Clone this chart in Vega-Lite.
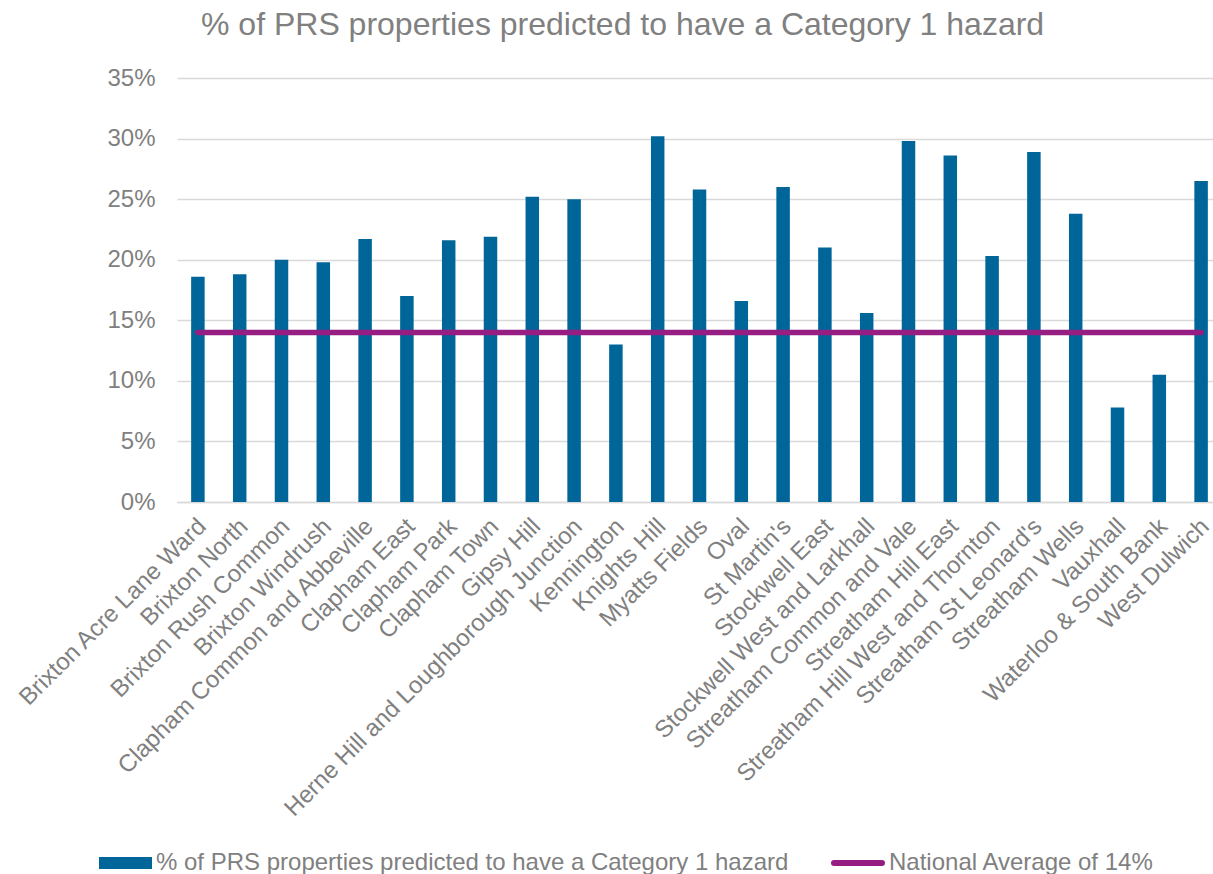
{
  "$schema": "https://vega.github.io/schema/vega-lite/v6.json",
  "autosize": "none",
  "width": 1036,
  "height": 424,
  "padding": {"left": 177, "top": 78, "right": 0, "bottom": 372},
  "background": "white",
  "config": {
    "font": "Liberation Sans",
    "view": {"stroke": null},
    "axis": {"labelFont": "Liberation Sans", "labelColor": "#808080", "labelFontSize": 24}
  },
  "title": {
    "text": "% of PRS properties predicted to have a Category 1 hazard",
    "anchor": "start",
    "frame": "group",
    "dx": 24,
    "baseline": "alphabetic",
    "offset": -1,
    "fontSize": 32,
    "fontWeight": "normal",
    "font": "Liberation Sans",
    "color": "#808080"
  },
  "data": {
    "values": [
      {"ward": "Brixton Acre Lane Ward", "pct": 0.186, "national": 0.14},
      {"ward": "Brixton North", "pct": 0.188, "national": 0.14},
      {"ward": "Brixton Rush Common", "pct": 0.200, "national": 0.14},
      {"ward": "Brixton Windrush", "pct": 0.198, "national": 0.14},
      {"ward": "Clapham Common and Abbeville", "pct": 0.217, "national": 0.14},
      {"ward": "Clapham East", "pct": 0.170, "national": 0.14},
      {"ward": "Clapham Park", "pct": 0.216, "national": 0.14},
      {"ward": "Clapham Town", "pct": 0.219, "national": 0.14},
      {"ward": "Gipsy Hill", "pct": 0.252, "national": 0.14},
      {"ward": "Herne Hill and Loughborough Junction", "pct": 0.250, "national": 0.14},
      {"ward": "Kennington", "pct": 0.130, "national": 0.14},
      {"ward": "Knights Hill", "pct": 0.302, "national": 0.14},
      {"ward": "Myatts Fields", "pct": 0.258, "national": 0.14},
      {"ward": "Oval", "pct": 0.166, "national": 0.14},
      {"ward": "St Martin's", "pct": 0.260, "national": 0.14},
      {"ward": "Stockwell East", "pct": 0.210, "national": 0.14},
      {"ward": "Stockwell West and Larkhall", "pct": 0.156, "national": 0.14},
      {"ward": "Streatham Common and Vale", "pct": 0.298, "national": 0.14},
      {"ward": "Streatham Hill East", "pct": 0.286, "national": 0.14},
      {"ward": "Streatham Hill West and Thornton", "pct": 0.203, "national": 0.14},
      {"ward": "Streatham St Leonard's", "pct": 0.289, "national": 0.14},
      {"ward": "Streatham Wells", "pct": 0.238, "national": 0.14},
      {"ward": "Vauxhall", "pct": 0.078, "national": 0.14},
      {"ward": "Waterloo & South Bank", "pct": 0.105, "national": 0.14},
      {"ward": "West Dulwich", "pct": 0.265, "national": 0.14}
    ]
  },
  "encoding": {
    "x": {
      "field": "ward",
      "type": "nominal",
      "sort": null,
      "scale": {"range": [0, 1045], "paddingInner": 0.677, "paddingOuter": 0.3385},
      "axis": {
        "title": null,
        "labelAngle": -45,
        "labelAlign": "right",
        "labelBaseline": "top",
        "labelPadding": 12,
        "labelOffset": -4,
        "ticks": false,
        "domainColor": "#d9d9d9",
        "domainWidth": 1.5,
        "labelLimit": 0
      }
    }
  },
  "layer": [
    {
      "mark": {"type": "bar", "color": "#006699"},
      "encoding": {
        "y": {
          "field": "pct",
          "type": "quantitative",
          "scale": {"domain": [0, 0.35], "nice": false},
          "axis": {
            "title": null,
            "values": [0, 0.05, 0.1, 0.15, 0.2, 0.25, 0.3, 0.35],
            "format": ".0%",
            "domain": false,
            "ticks": false,
            "labelPadding": 22,
            "gridColor": "#d9d9d9",
            "gridWidth": 1.5
          }
        },
        "color": {
          "datum": "% of PRS properties predicted to have a Category 1 hazard",
          "type": "nominal",
          "scale": {
            "domain": ["% of PRS properties predicted to have a Category 1 hazard", "National Average of 14%"],
            "range": ["#006699", "#961D82"]
          },
          "legend": {
            "orient": "none",
            "legendX": -50,
            "legendY": 773,
            "direction": "horizontal",
            "title": null,
            "labelFont": "Liberation Sans",
            "labelFontSize": 24,
            "labelColor": "#808080",
            "labelOffset": 5,
            "columnPadding": 32,
            "symbolSize": 2809,
            "labelLimit": 0,
            "encode": {
              "symbols": {
                "update": {
                  "shape": {"signal": "datum.value === 'National Average of 14%' ? 'M-1.434,0H0.377' : 'M-1.509,-0.226H0.491V0.226H-1.509Z'"},
                  "fill": {"signal": "datum.value === 'National Average of 14%' ? 'transparent' : '#006699'"},
                  "stroke": {"signal": "datum.value === 'National Average of 14%' ? '#961D82' : 'transparent'"},
                  "strokeWidth": {"signal": "datum.value === 'National Average of 14%' ? 6 : 0"},
                  "strokeCap": {"value": "round"},
                  "opacity": {"value": 1}
                }
              }
            }
          }
        }
      }
    },
    {
      "mark": {"type": "line", "strokeWidth": 5.5, "strokeCap": "round"},
      "encoding": {
        "y": {"field": "national", "type": "quantitative"},
        "color": {"datum": "National Average of 14%", "type": "nominal"}
      }
    }
  ]
}
